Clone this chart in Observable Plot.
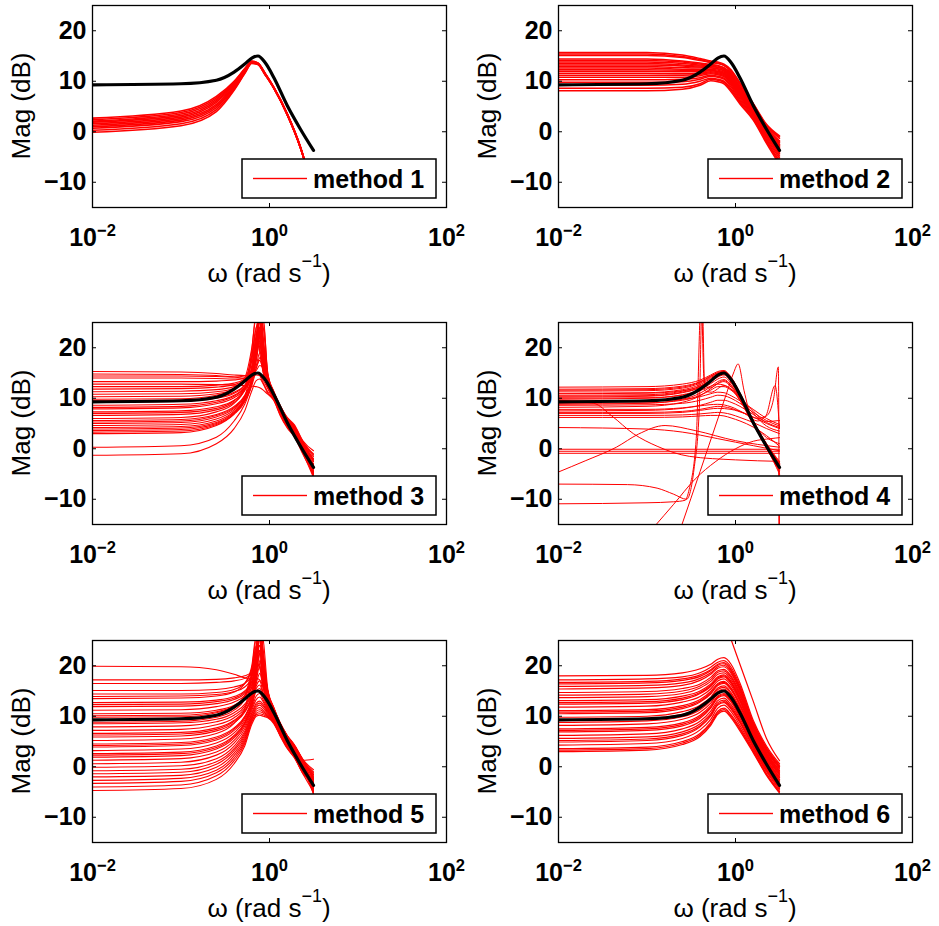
<!DOCTYPE html>
<html>
<head>
<meta charset="utf-8">
<script src="https://cdn.jsdelivr.net/npm/d3@7"></script>
<script src="https://cdn.jsdelivr.net/npm/@observablehq/plot@0.6"></script>
<style>
html,body{margin:0;padding:0;background:#fff;}
#fig{position:relative;width:939px;height:926px;overflow:hidden;background:#fff;}
#fig svg{position:absolute;}
</style>
</head>
<body>
<div id="fig"></div>
<script>
// ---------- axes ----------
const xTicks = [0.01, 1, 100];
const yTicks = [-10, 0, 10, 20];
const methodNames = ["method 1", "method 2", "method 3", "method 4", "method 5", "method 6"];

// ---------- frequency grids (rad/s) ----------
const omegaA = [0.01, 0.1, 0.251, 0.398, 0.525, 0.631, 0.741, 0.891, 1.122, 1.585, 2.239, 3.142];
const omegaB = [0.01, 0.1, 0.251, 0.398, 0.525, 0.631, 0.708, 0.776, 0.851, 0.955, 1.122, 1.318, 1.585, 1.905, 2.399, 3.142];

// ---------- true system (black), on omegaA ----------
const trueMag = [9.3, 9.5, 10.2, 11.8, 13.4, 14.6, 15.0, 13.7, 10.7, 5.2, 0.5, -3.7];

// ---------- method 1 (omegaA) ----------
const method1 = [
[-0.1, 1.2, 4.0, 8.2, 11.5, 13.5, 13.3, 11.3, 8.6, 3.4, -3.2, -12],
[0.3, 1.6, 4.4, 8.4, 11.6, 13.6, 13.3, 11.3, 8.6, 3.4, -3.2, -12],
[0.7, 2.0, 4.8, 8.7, 11.8, 13.6, 13.4, 11.4, 8.6, 3.4, -3.2, -12],
[1.0, 2.3, 5.1, 8.9, 11.9, 13.7, 13.4, 11.4, 8.6, 3.4, -3.2, -12],
[1.3, 2.6, 5.4, 9.1, 12.0, 13.7, 13.4, 11.4, 8.7, 3.5, -3.1, -12],
[1.6, 2.9, 5.8, 9.3, 12.1, 13.8, 13.5, 11.5, 8.7, 3.5, -3.1, -12],
[1.9, 3.2, 6.1, 9.5, 12.2, 13.8, 13.5, 11.5, 8.7, 3.5, -3.1, -12],
[2.1, 3.5, 6.4, 9.7, 12.3, 13.9, 13.5, 11.5, 8.7, 3.5, -3.1, -12],
[2.4, 3.8, 6.7, 9.8, 12.4, 13.9, 13.6, 11.6, 8.8, 3.6, -3.0, -12],
[2.7, 4.1, 7.0, 10.0, 12.5, 14.0, 13.6, 11.6, 8.8, 3.6, -3.0, -12]
];

// ---------- method 2 (omegaA) ----------
const method2 = [
[15.7, 15.7, 15.2, 14.5, 14.0, 13.8, 13.4, 12.3, 9.7, 5.6, 1.5, -0.8],
[15.4, 15.4, 14.9, 14.3, 13.8, 13.6, 13.2, 12.1, 9.5, 5.5, 1.3, -1.0],
[15.1, 15.1, 14.7, 14.1, 13.7, 13.5, 13.1, 11.9, 9.4, 5.3, 1.2, -1.3],
[14.4, 14.4, 14.0, 13.6, 13.3, 13.1, 12.7, 11.6, 9.0, 5.0, 0.9, -1.8],
[14.1, 14.1, 13.8, 13.4, 13.2, 13.0, 12.6, 11.4, 8.8, 4.9, 0.7, -2.0],
[13.8, 13.8, 13.5, 13.2, 13.0, 12.8, 12.4, 11.2, 8.7, 4.8, 0.5, -2.2],
[13.5, 13.5, 13.2, 13.0, 12.9, 12.7, 12.3, 11.0, 8.5, 4.6, 0.4, -2.5],
[13.2, 13.2, 13.0, 12.8, 12.7, 12.5, 12.1, 10.8, 8.3, 4.5, 0.2, -2.7],
[12.9, 12.9, 12.7, 12.6, 12.6, 12.4, 12.0, 10.7, 8.1, 4.4, 0.1, -2.9],
[12.6, 12.6, 12.4, 12.3, 12.4, 12.2, 11.8, 10.5, 8.0, 4.2, -0.1, -3.1],
[12.3, 12.3, 12.2, 12.1, 12.2, 12.0, 11.6, 10.3, 7.8, 4.1, -0.2, -3.4],
[12.0, 12.0, 11.9, 11.9, 12.1, 11.9, 11.5, 10.1, 7.6, 4.0, -0.4, -3.6],
[11.6, 11.6, 11.5, 11.6, 11.9, 11.7, 11.3, 9.9, 7.4, 3.8, -0.6, -3.9],
[11.2, 11.2, 11.2, 11.4, 11.7, 11.5, 11.1, 9.7, 7.2, 3.7, -0.7, -4.2],
[10.8, 10.8, 10.8, 11.1, 11.5, 11.3, 10.9, 9.5, 7.0, 3.5, -0.9, -4.4],
[10.3, 10.3, 10.4, 10.7, 11.2, 11.0, 10.6, 9.2, 6.7, 3.3, -1.2, -4.8],
[9.8, 9.8, 9.9, 10.4, 11.0, 10.8, 10.4, 8.9, 6.4, 3.0, -1.5, -5.2],
[9.2, 9.2, 9.4, 10.0, 10.6, 10.4, 10.0, 8.5, 6.1, 2.8, -1.8, -5.7],
[8.6, 8.6, 8.8, 9.5, 10.4, 10.2, 9.8, 8.2, 5.8, 2.5, -2.0, -6.1],
[8.1, 8.1, 8.4, 9.2, 10.1, 9.9, 9.5, 7.9, 5.5, 2.3, -2.3, -6.5]
];

// ---------- method 3 (omegaB) ----------
const method3 = [
[15.3, 15.2, 14.9, 14.6, 14.5, 14.8, 15.5, 16.5, 16.0, 13.5, 10.8, 8.2, 5.6, 3.8, 0.8, -2.5],
[14.8, 14.7, 14.5, 14.2, 14.0, 14.2, 14.6, 14.5, 13.5, 12.0, 10.2, 7.6, 5.0, 3.4, 0.2, -3.5],
[14.4, 14.4, 14.3, 14.2, 14.4, 15.0, 16.5, 19.0, 18.0, 14.2, 11.0, 8.4, 5.9, 4.2, 1.0, -2.0],
[14.0, 14.0, 13.9, 13.8, 13.9, 14.6, 16.0, 18.0, 17.0, 13.8, 10.9, 8.3, 5.8, 4.0, 0.9, -2.2],
[13.3, 13.3, 13.4, 13.6, 14.0, 15.2, 17.5, 22.0, 20.0, 14.5, 11.2, 8.5, 6.0, 4.5, 1.3, -1.0],
[12.8, 12.8, 12.7, 12.6, 12.5, 12.4, 12.3, 12.1, 11.6, 10.8, 9.8, 7.4, 4.8, 3.1, -0.4, -3.2],
[12.3, 12.3, 12.6, 13.0, 13.8, 15.5, 19.0, 27.0, 24.0, 15.0, 11.3, 8.6, 6.2, 4.8, 1.5, -0.4],
[11.8, 11.9, 12.2, 12.7, 13.6, 15.3, 19.5, 25.0, 21.0, 14.5, 11.1, 8.5, 6.1, 4.6, 1.3, -1.2],
[11.3, 11.4, 11.7, 12.3, 13.4, 15.5, 20.5, 31.0, 22.0, 14.2, 11.0, 8.4, 6.0, 4.5, 1.2, -1.5],
[10.8, 10.9, 11.3, 12.0, 13.2, 15.8, 22.0, 29.0, 19.0, 13.5, 10.7, 8.2, 5.8, 4.3, 1.0, -2.0],
[10.3, 10.4, 10.9, 11.8, 13.6, 18.5, 24.0, 26.0, 17.0, 13.0, 10.5, 8.0, 5.6, 4.0, 0.8, -2.5],
[9.8, 9.9, 10.6, 11.8, 14.0, 20.0, 26.0, 22.0, 15.5, 12.5, 10.3, 7.8, 5.4, 3.8, 0.5, -3.0],
[9.5, 9.6, 10.2, 11.2, 12.6, 15.8, 22.5, 24.0, 17.0, 13.2, 10.5, 7.9, 5.5, 3.9, 0.6, -3.1],
[9.2, 9.4, 10.0, 11.0, 12.5, 15.5, 20.0, 30.0, 20.5, 13.6, 10.8, 8.0, 5.5, 3.9, 0.6, -3.3],
[8.6, 8.8, 9.5, 10.6, 12.2, 15.0, 18.5, 24.0, 25.0, 15.0, 11.2, 8.3, 5.7, 4.1, 0.8, -3.6],
[8.2, 8.4, 9.2, 10.4, 12.0, 14.9, 21.0, 28.0, 19.0, 13.6, 10.8, 8.1, 5.6, 4.0, 0.5, -3.8],
[7.9, 8.1, 8.9, 10.1, 11.8, 14.8, 19.5, 27.0, 21.0, 14.0, 10.9, 8.1, 5.5, 3.9, 0.4, -4.0],
[7.3, 7.5, 8.3, 9.6, 11.5, 14.5, 21.0, 26.0, 18.0, 13.2, 10.6, 7.9, 5.3, 3.7, 0.2, -4.4],
[7.0, 7.2, 8.0, 9.5, 12.0, 18.0, 24.0, 23.0, 17.0, 13.0, 10.5, 7.8, 5.3, 3.7, 0.1, -4.6],
[6.6, 6.8, 7.7, 9.2, 11.7, 17.5, 23.0, 21.0, 16.0, 12.8, 10.4, 7.7, 5.2, 3.6, 0.0, -4.8],
[6.0, 6.2, 7.3, 9.0, 12.0, 19.5, 27.0, 19.0, 15.0, 12.5, 10.2, 7.5, 5.0, 3.4, -0.2, -5.2],
[5.6, 5.8, 6.8, 8.4, 10.6, 14.0, 19.0, 28.0, 19.5, 13.5, 10.6, 7.8, 5.2, 3.5, -0.1, -5.5],
[5.3, 5.5, 6.6, 8.2, 10.4, 13.9, 20.5, 26.0, 18.0, 13.2, 10.5, 7.7, 5.1, 3.5, -0.2, -5.3],
[5.0, 5.2, 6.3, 8.0, 10.3, 13.8, 18.0, 23.0, 26.0, 14.5, 11.0, 8.0, 5.4, 3.7, 0.1, -5.0],
[4.6, 4.8, 5.9, 7.7, 10.0, 13.5, 17.5, 21.0, 18.5, 13.0, 10.4, 7.6, 5.0, 3.3, -0.3, -4.6],
[4.2, 4.4, 5.5, 7.4, 9.8, 13.2, 18.5, 25.0, 17.5, 12.8, 10.2, 7.4, 4.9, 3.2, -0.4, -4.2],
[3.9, 4.1, 5.2, 7.2, 9.6, 13.1, 19.0, 23.5, 16.5, 12.5, 10.1, 7.3, 4.8, 3.1, -0.5, -4.0],
[3.6, 3.8, 5.0, 7.0, 9.5, 13.0, 20.0, 22.0, 16.0, 12.3, 10.0, 7.2, 4.7, 3.0, -0.6, -3.8],
[3.3, 3.5, 4.8, 6.8, 9.3, 12.9, 16.0, 17.5, 15.5, 12.2, 9.9, 7.1, 4.6, 2.9, -0.7, -3.6],
[3.0, 3.2, 4.6, 7.0, 10.2, 16.5, 22.0, 20.0, 15.0, 12.0, 9.8, 7.0, 4.5, 2.8, -0.8, -3.4],
[0.3, 0.6, 2.3, 5.5, 8.8, 12.5, 15.0, 14.5, 13.0, 11.3, 9.6, 6.8, 4.3, 2.6, -1.0, -5.7],
[-1.3, -1.0, 1.0, 4.0, 7.5, 11.5, 13.5, 13.8, 12.8, 11.0, 9.5, 6.6, 4.1, 2.4, -1.2, -5.0]
];

// ---------- method 4 (omegaA) ----------
const method4 = [
[12.2, 12.3, 12.8, 13.6, 14.6, 15.3, 15.5, 14.2, 11.0, 5.4, 0.6, -3.2],
[11.8, 11.9, 12.4, 13.3, 14.4, 15.1, 15.3, 14.0, 10.9, 5.3, 0.5, -3.5],
[11.6, 11.7, 12.2, 13.2, 14.3, 15.0, 15.3, 14.1, 11.1, 5.5, 0.8, -2.8],
[11.4, 11.5, 12.0, 13.0, 14.1, 14.9, 15.2, 13.9, 10.8, 5.3, 0.4, -4.0],
[11.0, 11.1, 11.7, 12.7, 13.9, 14.7, 15.0, 13.8, 10.7, 5.2, 0.4, -4.5],
[10.9, 11.0, 11.5, 12.4, 13.6, 14.6, 15.1, 13.9, 10.9, 5.6, 1.0, -2.5],
[10.6, 10.7, 11.4, 12.4, 13.6, 14.5, 14.9, 13.6, 10.6, 5.2, 0.3, -5.0],
[10.4, 10.5, 11.2, 12.2, 13.5, 14.4, 14.8, 13.5, 10.4, 5.0, 0.1, -4.2],
[9.8, 10.0, 10.7, 11.7, 12.9, 13.8, 14.2, 13.0, 10.2, 5.0, 0.2, -3.8],
[8.8, 9.0, 9.8, 11.0, 12.3, 13.3, 13.7, 12.6, 9.9, 4.9, 0.4, -3.0],
[10.0, 10.1, 10.6, 11.5, 12.4, 12.8, 12.6, 11.8, 10.2, 7.5, 5.4, 5.6],
[9.5, 9.5, 9.8, 10.3, 10.9, 11.2, 11.1, 10.5, 9.5, 7.8, 6.0, 4.8],
[9.0, 9.1, 9.6, 10.6, 11.6, 12.3, 12.3, 11.6, 10.0, 7.0, 4.5, 3.5],
[8.6, 8.7, 9.0, 9.6, 10.2, 10.6, 10.5, 10.0, 9.0, 7.2, 5.6, 4.5],
[7.8, 7.8, 8.1, 8.6, 9.2, 9.6, 9.6, 9.2, 8.4, 6.8, 5.2, 4.2],
[7.2, 7.2, 7.4, 7.8, 8.2, 8.4, 8.3, 8.0, 7.4, 6.3, 5.0, 4.0],
[6.6, 6.6, 6.7, 6.9, 7.1, 7.2, 7.1, 6.8, 6.2, 5.2, 4.0, 3.0],
[6.2, 6.2, 6.3, 6.5, 6.6, 6.6, 6.5, 6.1, 5.5, 4.3, 2.6, 0.5]
];
// irregular method-4 estimates, as [omega, dB] pairs
const method4Odd = [
[[0.01, -0.1], [3.142, -0.1]],
[[0.01, -0.5], [3.142, -0.5]],
[[0.01, -0.9], [3.142, -0.9]],
[[0.01, 4.2], [0.1, 3.9], [0.25, 3.3], [0.4, 2.7], [0.63, 2.0], [1, 1.3], [1.6, 0.6], [3.142, -0.4]],
[[0.01, -4.6], [0.02, -2.4], [0.045, 0.3], [0.08, 2.9], [0.16, 4.6], [0.35, 3.6], [1, 1.6], [3.142, 0.3]],
[[0.01, -7.0], [0.06, -7.1], [0.13, -7.8], [0.2, -9.0], [0.28, -10.0], [0.34, -4.0], [0.39, 8], [0.42, 30], [0.45, 11.5], [0.53, 11.2], [0.74, 12.5], [0.89, 11.8], [1.12, 9.6], [1.58, 5.4], [2.24, 1.0], [3.142, -2.8]],
[[0.01, -10.9], [0.1, -10.7], [0.2, -10.5], [0.27, -10.2], [0.3, -8.0], [0.36, 2], [0.41, 30], [0.44, 14], [0.5, 12], [0.74, 13.5], [0.89, 12.5], [1.12, 10.0], [1.58, 5.2], [2.24, 0.8], [3.142, -3.0]],
[[0.245, -15.3], [0.398, -4.5], [0.631, 5.9], [0.794, 11.0], [0.95, 15.0], [1.07, 16.8], [1.25, 11.5], [1.5, 6.0], [2.0, 3.0], [3.142, 1.0]],
[[0.12, -15.5], [0.2, -11.0], [0.35, -6.0], [0.6, -2.5], [1.0, 0.0], [1.6, 1.5], [2.5, 2.0], [3.142, 2.2]],
[[0.01, 7.0], [0.1, 7.0], [0.25, 7.2], [0.4, 7.6], [0.63, 8.0], [0.89, 7.8], [1.26, 7.0], [1.78, 6.0], [2.24, 6.5], [2.7, 10.0], [3.05, 16.2], [3.142, -40]],
[[0.01, 10.2], [0.1, 10.4], [0.251, 11.1], [0.398, 12.1], [0.525, 13.3], [0.631, 14.2], [0.741, 14.6], [0.891, 13.4], [1.122, 10.5], [1.585, 5.1], [2.239, 0.2], [2.9, -3.5], [3.1, -4.5], [3.142, -40]],
[[0.01, 8.2], [0.1, 8.4], [0.251, 9.2], [0.398, 10.5], [0.525, 11.9], [0.631, 12.9], [0.741, 13.3], [0.891, 12.2], [1.122, 9.6], [1.585, 4.8], [2.239, 0.6], [2.9, -2.5], [3.1, -3.5], [3.142, -40]],
[[0.01, 7.5], [0.1, 7.6], [0.25, 8.0], [0.4, 8.5], [0.63, 8.8], [0.89, 8.3], [1.26, 7.0], [1.78, 5.5], [2.2, 6.5], [2.8, 12.5], [3.142, 4.0]],
[[0.01, 9.6], [0.025, 9.0], [0.04, 6.5], [0.07, 3.0], [0.13, 0.5], [0.3, -1.5], [1, -2.2], [3.142, -2.5]]
];

// ---------- method 5 (omegaB) ----------
const method5 = [
[19.9, 19.8, 19.2, 18.3, 17.6, 17.3, 17.5, 17.2, 15.8, 13.6, 11.0, 8.3, 5.8, 3.6, 0.8, -2.0],
[17.2, 17.2, 17.3, 17.6, 18.0, 18.8, 20.5, 19.5, 16.5, 14.0, 11.2, 8.5, 6.0, 4.0, 1.0, -1.5],
[16.5, 16.5, 16.7, 17.0, 17.5, 18.5, 21.5, 23.0, 18.0, 14.5, 11.4, 8.6, 6.1, 4.2, 1.2, -1.0],
[15.1, 15.1, 15.3, 15.8, 16.5, 18.0, 22.0, 30.0, 21.0, 15.0, 11.6, 8.7, 6.2, 4.4, 1.4, -0.6],
[14.4, 14.4, 14.7, 15.3, 16.5, 19.5, 24.0, 28.0, 19.5, 14.6, 11.4, 8.6, 6.0, 4.2, 1.1, -1.2],
[13.9, 14.0, 14.3, 14.9, 15.8, 17.6, 23.0, 29.0, 20.0, 14.8, 11.4, 8.5, 6.0, 4.1, 1.0, -1.5],
[13.5, 13.6, 14.0, 14.8, 16.5, 20.0, 26.0, 25.0, 18.0, 14.2, 11.2, 8.4, 5.9, 4.0, 0.9, -1.8],
[12.7, 12.8, 13.2, 13.9, 15.0, 17.0, 22.0, 31.0, 22.0, 15.0, 11.5, 8.6, 6.1, 4.2, 1.2, -2.2],
[12.3, 12.4, 12.9, 13.6, 14.8, 16.8, 21.5, 26.0, 21.0, 15.0, 11.5, 8.6, 6.1, 4.2, 1.1, -2.4],
[11.9, 12.0, 12.5, 13.3, 14.5, 16.5, 20.5, 27.0, 25.0, 15.5, 11.7, 8.7, 6.2, 4.3, 1.3, -2.6],
[11.2, 11.3, 11.9, 12.8, 14.1, 16.2, 20.0, 24.0, 19.0, 14.0, 11.0, 8.3, 5.8, 3.9, 0.8, -3.0],
[10.5, 10.6, 11.2, 12.2, 13.6, 15.8, 21.0, 29.0, 20.0, 14.3, 11.1, 8.3, 5.8, 3.9, 0.7, -3.4],
[10.1, 10.2, 10.9, 12.0, 13.4, 15.7, 22.0, 27.5, 18.5, 13.9, 11.0, 8.2, 5.7, 3.8, 0.6, -3.6],
[9.8, 9.9, 10.7, 12.0, 14.0, 18.0, 23.0, 26.0, 17.5, 13.6, 10.8, 8.1, 5.6, 3.8, 0.6, -3.8],
[9.2, 9.3, 10.1, 11.6, 14.0, 19.5, 25.0, 22.0, 16.0, 13.2, 10.6, 8.0, 5.5, 3.7, 0.5, -4.2],
[8.8, 9.0, 9.8, 11.2, 13.4, 18.5, 24.0, 24.0, 17.0, 13.4, 10.7, 8.1, 5.6, 3.8, 0.7, -4.4],
[8.5, 8.7, 9.4, 10.7, 12.4, 15.0, 19.5, 30.0, 21.0, 14.4, 11.2, 8.4, 5.9, 4.0, 0.9, -4.6],
[7.9, 8.1, 8.9, 10.2, 12.0, 14.8, 19.0, 26.0, 23.0, 14.8, 11.3, 8.5, 6.0, 4.1, 1.0, -5.0],
[7.2, 7.4, 8.3, 9.7, 11.6, 14.5, 18.5, 23.0, 17.5, 13.4, 10.7, 8.1, 5.6, 3.7, 0.5, -5.4],
[6.6, 6.8, 7.7, 9.2, 11.2, 14.2, 20.0, 27.0, 18.5, 13.6, 10.8, 8.1, 5.6, 3.7, 0.5, -4.8],
[6.3, 6.5, 7.4, 9.0, 11.0, 14.0, 19.0, 25.5, 20.0, 13.8, 10.9, 8.2, 5.7, 3.8, 0.6, -4.6],
[5.9, 6.1, 7.1, 8.7, 10.8, 13.9, 21.5, 24.0, 17.0, 13.0, 10.5, 7.9, 5.4, 3.5, 0.3, -4.4],
[5.2, 5.5, 6.6, 8.6, 11.5, 18.0, 23.0, 20.0, 15.5, 12.6, 10.3, 7.8, 5.3, 3.4, 0.2, -4.0],
[4.5, 4.8, 5.9, 7.7, 10.0, 13.3, 18.0, 22.5, 19.0, 13.5, 10.8, 8.1, 5.6, 3.7, 0.5, -3.6],
[4.2, 4.5, 5.6, 7.5, 9.8, 13.2, 17.5, 21.0, 17.5, 13.1, 10.6, 8.0, 5.5, 3.6, 0.4, -3.4],
[3.9, 4.2, 5.3, 7.2, 9.6, 13.0, 17.0, 20.0, 16.5, 12.8, 10.4, 7.9, 5.4, 3.5, 0.3, -3.2],
[3.2, 3.5, 4.7, 6.7, 9.2, 12.6, 16.5, 18.5, 15.5, 12.4, 10.2, 7.7, 5.2, 3.3, 0.1, -2.8],
[2.6, 2.9, 4.1, 6.2, 8.8, 12.3, 16.0, 17.0, 14.5, 12.0, 10.0, 7.5, 5.0, 3.1, -0.1, -2.5],
[2.3, 2.6, 3.8, 6.0, 8.6, 12.1, 15.5, 16.2, 14.2, 11.8, 9.9, 7.4, 4.9, 3.0, -0.2, -2.6],
[1.9, 2.2, 3.5, 5.7, 8.4, 12.0, 15.0, 15.5, 13.8, 11.7, 9.8, 7.3, 4.8, 2.9, -0.3, -5.4],
[1.3, 1.6, 2.9, 5.2, 8.0, 11.6, 14.0, 14.5, 13.2, 11.4, 9.6, 7.1, 4.6, 2.7, -0.5, -4.8],
[0.6, 0.9, 2.3, 4.7, 7.5, 11.2, 13.3, 13.8, 12.8, 11.2, 9.4, 6.9, 4.4, 2.5, -0.7, -4.2],
[-0.1, 0.2, 1.6, 4.1, 7.0, 10.7, 12.6, 13.0, 12.3, 11.0, 9.2, 6.8, 4.3, 2.6, 1.3, 1.5],
[-0.8, -0.5, 1.0, 3.6, 6.6, 10.4, 12.2, 12.6, 12.0, 10.8, 9.1, 6.7, 4.2, 2.4, -0.9, -4.5],
[-1.4, -1.1, 0.5, 3.2, 6.2, 10.0, 11.8, 12.2, 11.6, 10.6, 9.0, 6.6, 4.1, 2.3, -1.0, -3.8],
[-2.0, -1.7, -0.1, 2.7, 5.8, 9.7, 11.4, 11.7, 11.2, 10.4, 8.9, 6.5, 4.0, 2.2, -1.1, -3.6],
[-2.7, -2.3, -0.7, 2.2, 5.4, 9.4, 11.0, 11.3, 10.9, 10.2, 8.8, 6.4, 3.9, 2.1, -1.2, -3.4],
[-3.3, -2.9, -1.2, 1.7, 5.0, 9.1, 10.6, 10.9, 10.6, 10.0, 8.7, 6.3, 3.8, 2.0, -1.3, -3.2],
[-4.0, -3.6, -1.8, 1.2, 4.6, 8.8, 10.3, 10.5, 10.3, 9.9, 8.6, 6.2, 3.7, 1.9, -1.4, -3.0],
[-4.7, -4.3, -2.5, 0.6, 4.1, 8.4, 10.0, 10.2, 10.0, 9.7, 8.5, 6.1, 3.6, 1.8, -1.5, -5.0]
];

// ---------- method 6 (omegaA) ----------
const method6 = [
[18.0, 18.1, 18.6, 19.4, 20.3, 21.3, 21.6, 20.3, 16.6, 9.2, 4.1, 0.6],
[17.2, 17.4, 17.8, 18.6, 19.7, 20.7, 21.0, 19.7, 16.1, 8.8, 3.8, 0.3],
[16.7, 16.9, 17.4, 18.2, 19.2, 20.3, 20.6, 19.3, 15.7, 8.6, 3.6, 0.1],
[16.4, 16.6, 17.1, 17.9, 19.0, 20.1, 20.4, 19.1, 15.6, 8.4, 3.5, 0.0],
[15.9, 16.1, 16.6, 17.5, 18.6, 19.8, 20.1, 18.8, 15.3, 8.3, 3.3, -0.2],
[15.4, 15.6, 16.1, 17.1, 18.3, 19.5, 19.8, 18.5, 15.0, 8.1, 3.1, -0.4],
[14.7, 14.9, 15.5, 16.4, 17.7, 19.0, 19.3, 18.0, 14.6, 7.8, 2.8, -0.7],
[14.2, 14.4, 15.0, 16.0, 17.3, 18.7, 19.0, 17.7, 14.3, 7.6, 2.7, -0.8],
[13.7, 13.9, 14.5, 15.6, 16.9, 18.3, 18.6, 17.3, 14.0, 7.4, 2.5, -1.0],
[13.1, 13.3, 14.0, 15.0, 16.4, 17.8, 18.2, 16.9, 13.6, 7.1, 2.3, -1.2],
[12.7, 12.9, 13.6, 14.7, 16.1, 17.6, 18.0, 16.7, 13.4, 7.0, 2.2, -1.4],
[12.4, 12.6, 13.3, 14.5, 15.9, 17.4, 17.8, 16.5, 13.2, 6.9, 2.0, -1.5],
[11.8, 12.0, 12.8, 13.9, 15.4, 17.0, 17.4, 16.1, 12.9, 6.6, 1.8, -1.7],
[11.1, 11.3, 12.1, 13.3, 14.9, 16.5, 16.9, 15.6, 12.4, 6.3, 1.5, -2.0],
[10.8, 11.0, 11.8, 13.0, 14.6, 16.3, 16.7, 15.4, 12.3, 6.2, 1.4, -2.1],
[10.5, 10.7, 11.5, 12.8, 14.4, 16.1, 16.5, 15.2, 12.1, 6.1, 1.3, -2.2],
[9.8, 10.0, 10.9, 12.2, 13.8, 15.6, 16.0, 14.7, 11.6, 5.8, 1.0, -2.5],
[9.3, 9.6, 10.4, 11.7, 13.5, 15.3, 15.7, 14.4, 11.4, 5.6, 0.9, -2.6],
[8.8, 9.1, 9.9, 11.3, 13.1, 14.9, 15.4, 14.1, 11.1, 5.4, 0.7, -2.8],
[8.2, 8.5, 9.4, 10.8, 12.6, 14.5, 15.0, 13.7, 10.7, 5.2, 0.5, -3.0],
[7.5, 7.8, 8.7, 10.2, 12.1, 14.0, 14.5, 13.2, 10.3, 4.9, 0.2, -3.3],
[7.2, 7.5, 8.4, 9.9, 11.8, 13.8, 14.3, 13.0, 10.1, 4.8, 0.1, -3.4],
[6.9, 7.2, 8.1, 9.6, 11.6, 13.6, 14.1, 12.8, 9.9, 4.7, 0.0, -3.5],
[6.2, 6.5, 7.5, 9.0, 11.0, 13.1, 13.6, 12.3, 9.5, 4.4, -0.3, -3.8],
[5.6, 5.9, 6.9, 8.5, 10.5, 12.7, 13.2, 11.9, 9.1, 4.1, -0.5, -4.0],
[5.2, 5.5, 6.5, 8.1, 10.2, 12.4, 12.9, 11.6, 8.9, 4.0, -0.6, -4.1],
[4.9, 5.2, 6.2, 7.9, 10.0, 12.2, 12.7, 11.4, 8.7, 3.8, -0.8, -4.3],
[4.3, 4.6, 5.6, 7.3, 9.4, 11.6, 12.2, 10.9, 8.2, 3.5, -1.0, -4.6],
[3.6, 3.9, 5.0, 6.6, 8.8, 11.0, 11.6, 10.3, 7.7, 3.2, -1.4, -4.9],
[3.3, 3.6, 4.7, 6.3, 8.5, 10.7, 11.3, 10.0, 7.4, 3.0, -1.5, -5.0],
[3.0, 3.3, 4.4, 6.0, 8.2, 10.4, 11.0, 9.7, 7.1, 2.8, -1.7, -5.2],
[40, 40, 40, 39, 37, 33, 29, 25.2, 20.3, 13.0, 5.6, 1.2]
];

// ---------- layout ----------
const FONT = '"Liberation Sans", Arial, Helvetica, sans-serif';
const panels = [
  {curves: method1, grid: omegaA, odd: [], sw: 1.6},
  {curves: method2, grid: omegaA, odd: [], sw: 1.5},
  {curves: method3, grid: omegaB, odd: [], sw: 1.1},
  {curves: method4, grid: omegaA, odd: method4Odd, sw: 1.0},
  {curves: method5, grid: omegaB, odd: [], sw: 1.1},
  {curves: method6, grid: omegaA, odd: [], sw: 1.2}
];
const fig = document.getElementById("fig");
const rowTop = [0, 317, 635];

panels.forEach((p, idx) => {
  const col = idx % 2, row = Math.floor(idx / 2);
  const left = col === 0 ? 0 : 470;
  const width = col === 0 ? 470 : 469;
  const mL = col === 0 ? 92 : 88;
  const mR = col === 0 ? 24 : 27;
  const mT = 5, mB = 84, height = 291;
  const fw = width - mL - mR, fh = height - mT - mB;

  const red = [];
  p.curves.forEach((c, i) => c.forEach((v, j) => red.push({k: "c" + i, w: p.grid[j], db: v})));
  p.odd.forEach((c, i) => c.forEach(([w, v]) => red.push({k: "o" + i, w, db: v})));
  const black = omegaA.map((w, j) => ({w, db: trueMag[j]}));

  const svg = Plot.plot({
    width, height,
    marginLeft: mL, marginRight: mR, marginTop: mT, marginBottom: mB,
    style: {fontFamily: FONT, background: "white", overflow: "visible"},
    x: {type: "log", domain: [0.01, 100], label: null},
    y: {domain: [-15, 25], label: null},
    marks: [
      Plot.line(red, {x: "w", y: "db", z: "k", stroke: "#ff0000", strokeWidth: p.sw, curve: "monotone-x", clip: true}),
      Plot.line(black, {x: "w", y: "db", stroke: "#000", strokeWidth: 3.2, curve: "monotone-x", clip: true}),
      Plot.tickX(xTicks, {x: d => d, stroke: "#000", insetTop: fh - 4}),
      Plot.tickX(xTicks, {x: d => d, stroke: "#000", insetBottom: fh - 4}),
      Plot.tickY(yTicks, {y: d => d, stroke: "#000", insetRight: fw - 4}),
      Plot.tickY(yTicks, {y: d => d, stroke: "#000", insetLeft: fw - 4}),
      Plot.frame({stroke: "#000", strokeWidth: 1.3}),
      Plot.axisY(yTicks, {anchor: "left", tickSize: 0, tickPadding: 6, fontSize: 25, fontWeight: "bold",
        tickFormat: d => d < 0 ? "\u2212" + Math.abs(d) : String(d), label: null}),
      Plot.axisX(xTicks, {anchor: "bottom", tickSize: 0, tickPadding: 21, fontSize: 25, fontWeight: "bold",
        tickFormat: d => String(Math.round(Math.log10(d))), label: null})
    ]
  });
  svg.style.left = left + "px";
  svg.style.top = rowTop[row] + "px";
  fig.appendChild(svg);

  const s = d3.select(svg);
  // superscript exponents on x tick labels
  s.selectAll('g[aria-label="x-axis tick label"] text').each(function() {
    const e = this.textContent.replace("-", "\u2212");
    const t = d3.select(this);
    t.text("10");
    t.append("tspan").attr("dy", "-0.62em").attr("font-size", "0.66em").text(e);
  });
  // y axis label
  s.append("text")
    .attr("transform", `translate(${mL - 62},${mT + fh / 2}) rotate(-90)`)
    .attr("text-anchor", "middle").attr("font-family", FONT).attr("font-size", 26)
    .attr("fill", "#000").text("Mag (dB)");
  // x axis label
  const xl = s.append("text").attr("x", mL + fw / 2).attr("y", mT + fh + 75)
    .attr("text-anchor", "middle").attr("font-family", FONT).attr("font-size", 26).attr("fill", "#000");
  xl.append("tspan").text("\u03c9 (rad s");
  xl.append("tspan").attr("dy", -15).attr("font-size", 18).text("\u22121");
  xl.append("tspan").attr("dy", 15).text(")");
  // legend
  const lx = mL + 150, ly = mT + fh - 48, lw = fw - 160, lh = 39;
  const g = s.append("g");
  g.append("rect").attr("x", lx).attr("y", ly).attr("width", lw).attr("height", lh)
    .attr("fill", "#fff").attr("stroke", "#000").attr("stroke-width", 1.5);
  g.append("rect").attr("x", lx + 11).attr("y", ly + 18.8).attr("width", 54).attr("height", 1.4)
    .attr("stroke", "none").style("fill", "#ff0000");
  g.append("text").attr("x", lx + 71).attr("y", ly + 29).attr("text-anchor", "start")
    .attr("font-family", FONT).attr("font-size", 25).attr("font-weight", "bold")
    .attr("fill", "#000").text(methodNames[idx]);
});
</script>
</body>
</html>
